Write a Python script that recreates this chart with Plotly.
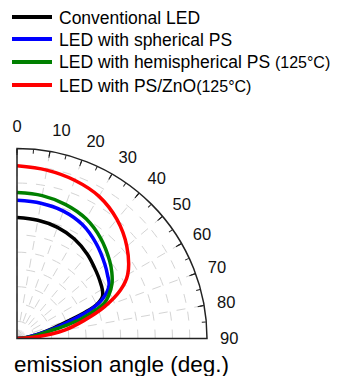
import plotly.graph_objects as go

# ---- data (normalized intensity vs emission angle) ----
angles_black = [0, 10, 20, 30, 40, 50, 55, 60, 64, 67, 69, 71, 74, 78, 84, 90]
r_black = [0.70, 0.695, 0.685, 0.665, 0.635, 0.60, 0.585, 0.57, 0.55, 0.50, 0.42, 0.32, 0.22, 0.13, 0.05, 0.0]

angles_blue = [0, 10, 20, 30, 40, 50, 55, 60, 65, 68, 70, 72, 75, 78, 84, 90]
r_blue = [0.80, 0.795, 0.785, 0.76, 0.715, 0.665, 0.64, 0.615, 0.55, 0.48, 0.40, 0.32, 0.22, 0.14, 0.05, 0.0]

angles_green = [0, 10, 20, 30, 40, 50, 55, 60, 65, 68, 70, 73, 75, 77, 80, 85, 90]
r_green = [0.845, 0.84, 0.825, 0.80, 0.755, 0.70, 0.67, 0.635, 0.585, 0.545, 0.49, 0.39, 0.30, 0.20, 0.13, 0.05, 0.0]

angles_red = [0, 10, 20, 30, 40, 50, 60, 65, 70, 75, 80, 85, 90]
r_red = [1.00, 0.99, 0.975, 0.95, 0.90, 0.83, 0.74, 0.66, 0.54, 0.40, 0.28, 0.12, 0.0]

series_names = [
    "Conventional LED",
    "LED with spherical PS",
    "LED with hemispherical PS <span style='font-size:16px'>(125°C)</span>",
    "LED with PS/ZnO<span style='font-size:16px'>(125°C)</span>",
]
series_colors = ["#000000", "#0000ff", "#008000", "#ff0000"]

major_ticks = list(range(0, 91, 10))
minor_ticks = list(range(0, 91, 5))

FONT = "Liberation Sans, Arial, sans-serif"
W, H = 339, 376

fig = go.Figure()
for th, r, name, col in zip(
    [angles_black, angles_blue, angles_green, angles_red],
    [r_black, r_blue, r_green, r_red],
    series_names, series_colors,
):
    fig.add_trace(go.Scatterpolar(
        theta=th, r=r, mode="lines", name=name,
        line=dict(color=col, width=3.5, shape="spline"),
        subplot="polar", showlegend=False,
    ))

# invisible traces so the tick-overlay subplots render
for sp in ["polar2", "polar3"]:
    fig.add_trace(go.Scatterpolar(theta=[0], r=[0], mode="markers",
                                  marker=dict(size=0.1, opacity=0),
                                  showlegend=False, hoverinfo="skip", subplot=sp))

dom_x = [17 / W, 207 / W]
dom_y = [37.5 / H, 227.5 / H]

def overlay_polar(tickvals, ticklen):
    return dict(
        domain=dict(x=dom_x, y=dom_y),
        sector=[0, 90],
        bgcolor="rgba(0,0,0,0)",
        radialaxis=dict(range=[0, 1.1], visible=False, showgrid=False),
        angularaxis=dict(
            rotation=90, direction="clockwise",
            tickvals=tickvals, showticklabels=False,
            ticks="inside", ticklen=ticklen, tickwidth=1.3, tickcolor="#222222",
            showline=False, showgrid=False,
        ),
    )

# manual legend (line samples + labels)
legend_y = [17, 39, 62, 85]
shapes = []
annotations = []
for yy, name, col in zip(legend_y, series_names, series_colors):
    shapes.append(dict(type="line", xref="paper", yref="paper",
                       x0=12 / W, x1=52 / W, y0=1 - yy / H, y1=1 - yy / H,
                       line=dict(color=col, width=4)))
    annotations.append(dict(text=name, x=57 / W, y=1 - (yy + 0.5) / H,
                            xref="paper", yref="paper", xanchor="left", yanchor="middle",
                            showarrow=False,
                            font=dict(size=17.5, family=FONT, color="#000000")))

annotations.append(dict(
    text="emission angle (deg.)", x=12 / W, y=12 / H,
    xref="paper", yref="paper", xanchor="left", yanchor="middle",
    showarrow=False, font=dict(size=22.5, family=FONT, color="#000000"),
))

fig.update_layout(
    width=W, height=H,
    margin=dict(l=0, r=0, t=0, b=0),
    paper_bgcolor="white",
    font=dict(family=FONT, color="#000000"),
    showlegend=False,
    polar=dict(
        domain=dict(x=dom_x, y=dom_y),
        sector=[0, 90],
        bgcolor="white",
        radialaxis=dict(
            range=[0, 1.1], dtick=0.1, showticklabels=False, ticks="",
            showline=False, gridcolor="#d4d4d4", griddash="dash", gridwidth=1,
        ),
        angularaxis=dict(
            rotation=90, direction="clockwise",
            tickvals=major_ticks, ticktext=[str(v) for v in major_ticks],
            ticks="outside", ticklen=9, tickwidth=1, tickcolor="rgba(0,0,0,0)",
            showline=True, linecolor="#222222", linewidth=1.5,
            gridcolor="#d4d4d4", griddash="dash", gridwidth=1,
            tickfont=dict(size=16.5, family=FONT, color="#111111"),
        ),
    ),
    polar2=overlay_polar(minor_ticks, 4),
    polar3=overlay_polar(major_ticks, 6),
    shapes=shapes,
    annotations=annotations,
)

fig.write_html("out.html")
